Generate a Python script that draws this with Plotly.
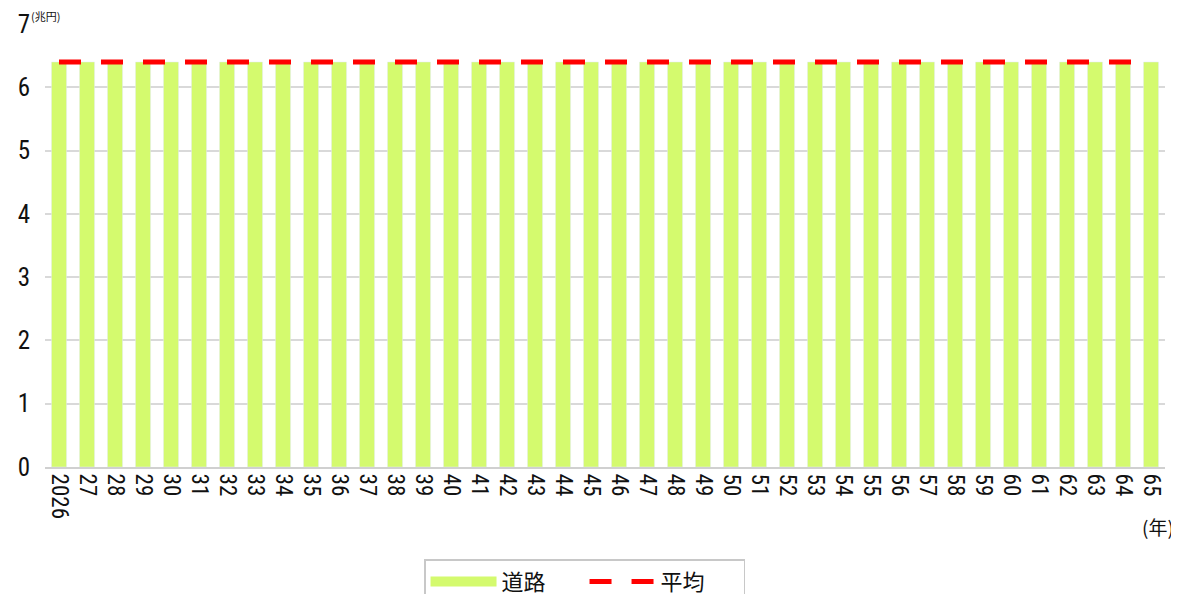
import plotly.graph_objects as go

years = [str(2026)] + [str(y)[2:] for y in range(2027, 2066)]
road = [6.4] * 40
avg = [6.4] * 40

FONT = "Liberation Sans Narrow, Roboto Condensed, Noto Sans CJK JP, sans-serif"

fig = go.Figure()
fig.add_trace(go.Bar(x=years, y=road, name="道路", marker_color="#d4fa6e",
                     showlegend=False))
fig.add_trace(go.Scatter(x=[None], y=[None], mode="lines", name="道路",
                         line=dict(color="#d4fa6e", width=11)))
fig.add_trace(go.Scatter(x=years, y=avg, mode="lines", name="平均",
                         line=dict(color="#ff0000", width=5, dash="22px,20px")))

fig.update_layout(
    width=1179, height=594,
    margin=dict(l=37, r=22, t=16, b=135),
    plot_bgcolor="white", paper_bgcolor="white",
    bargap=0.46,
    font=dict(family=FONT, color="#111", size=18),
    xaxis=dict(type="category", tickangle=90, tickfont=dict(size=23),
               showgrid=False, showline=True, linecolor="#d0d0d0", linewidth=2,
               ticks="", automargin=False),
    yaxis=dict(range=[0, 7], dtick=1, tickfont=dict(size=25), showgrid=True,
               gridcolor="#d9d9d9", gridwidth=1.5, zeroline=False, ticks="",
               ticklabelstandoff=14, automargin=False),
    legend=dict(orientation="h", x=0.489, xanchor="center", xref="container",
                y=0.072, yanchor="top", yref="container",
                bordercolor="#c8c8c8", borderwidth=1.5, itemwidth=66,
                entrywidth=78, entrywidthmode="pixels",
                font=dict(size=22, family="Noto Sans CJK JP"),
                traceorder="normal"),
    annotations=[
        dict(text="(兆円)", xref="paper", yref="paper", x=-0.014, y=1.0,
             xanchor="left", yanchor="bottom", yshift=-2, showarrow=False,
             font=dict(size=11, family="Noto Sans CJK JP")),
        dict(text="(年)", xref="paper", yref="paper", x=1.01, y=-0.135,
             xanchor="right", yanchor="middle", showarrow=False,
             font=dict(size=19, family="Noto Sans CJK JP")),
    ],
)

fig.write_html("out.html")
